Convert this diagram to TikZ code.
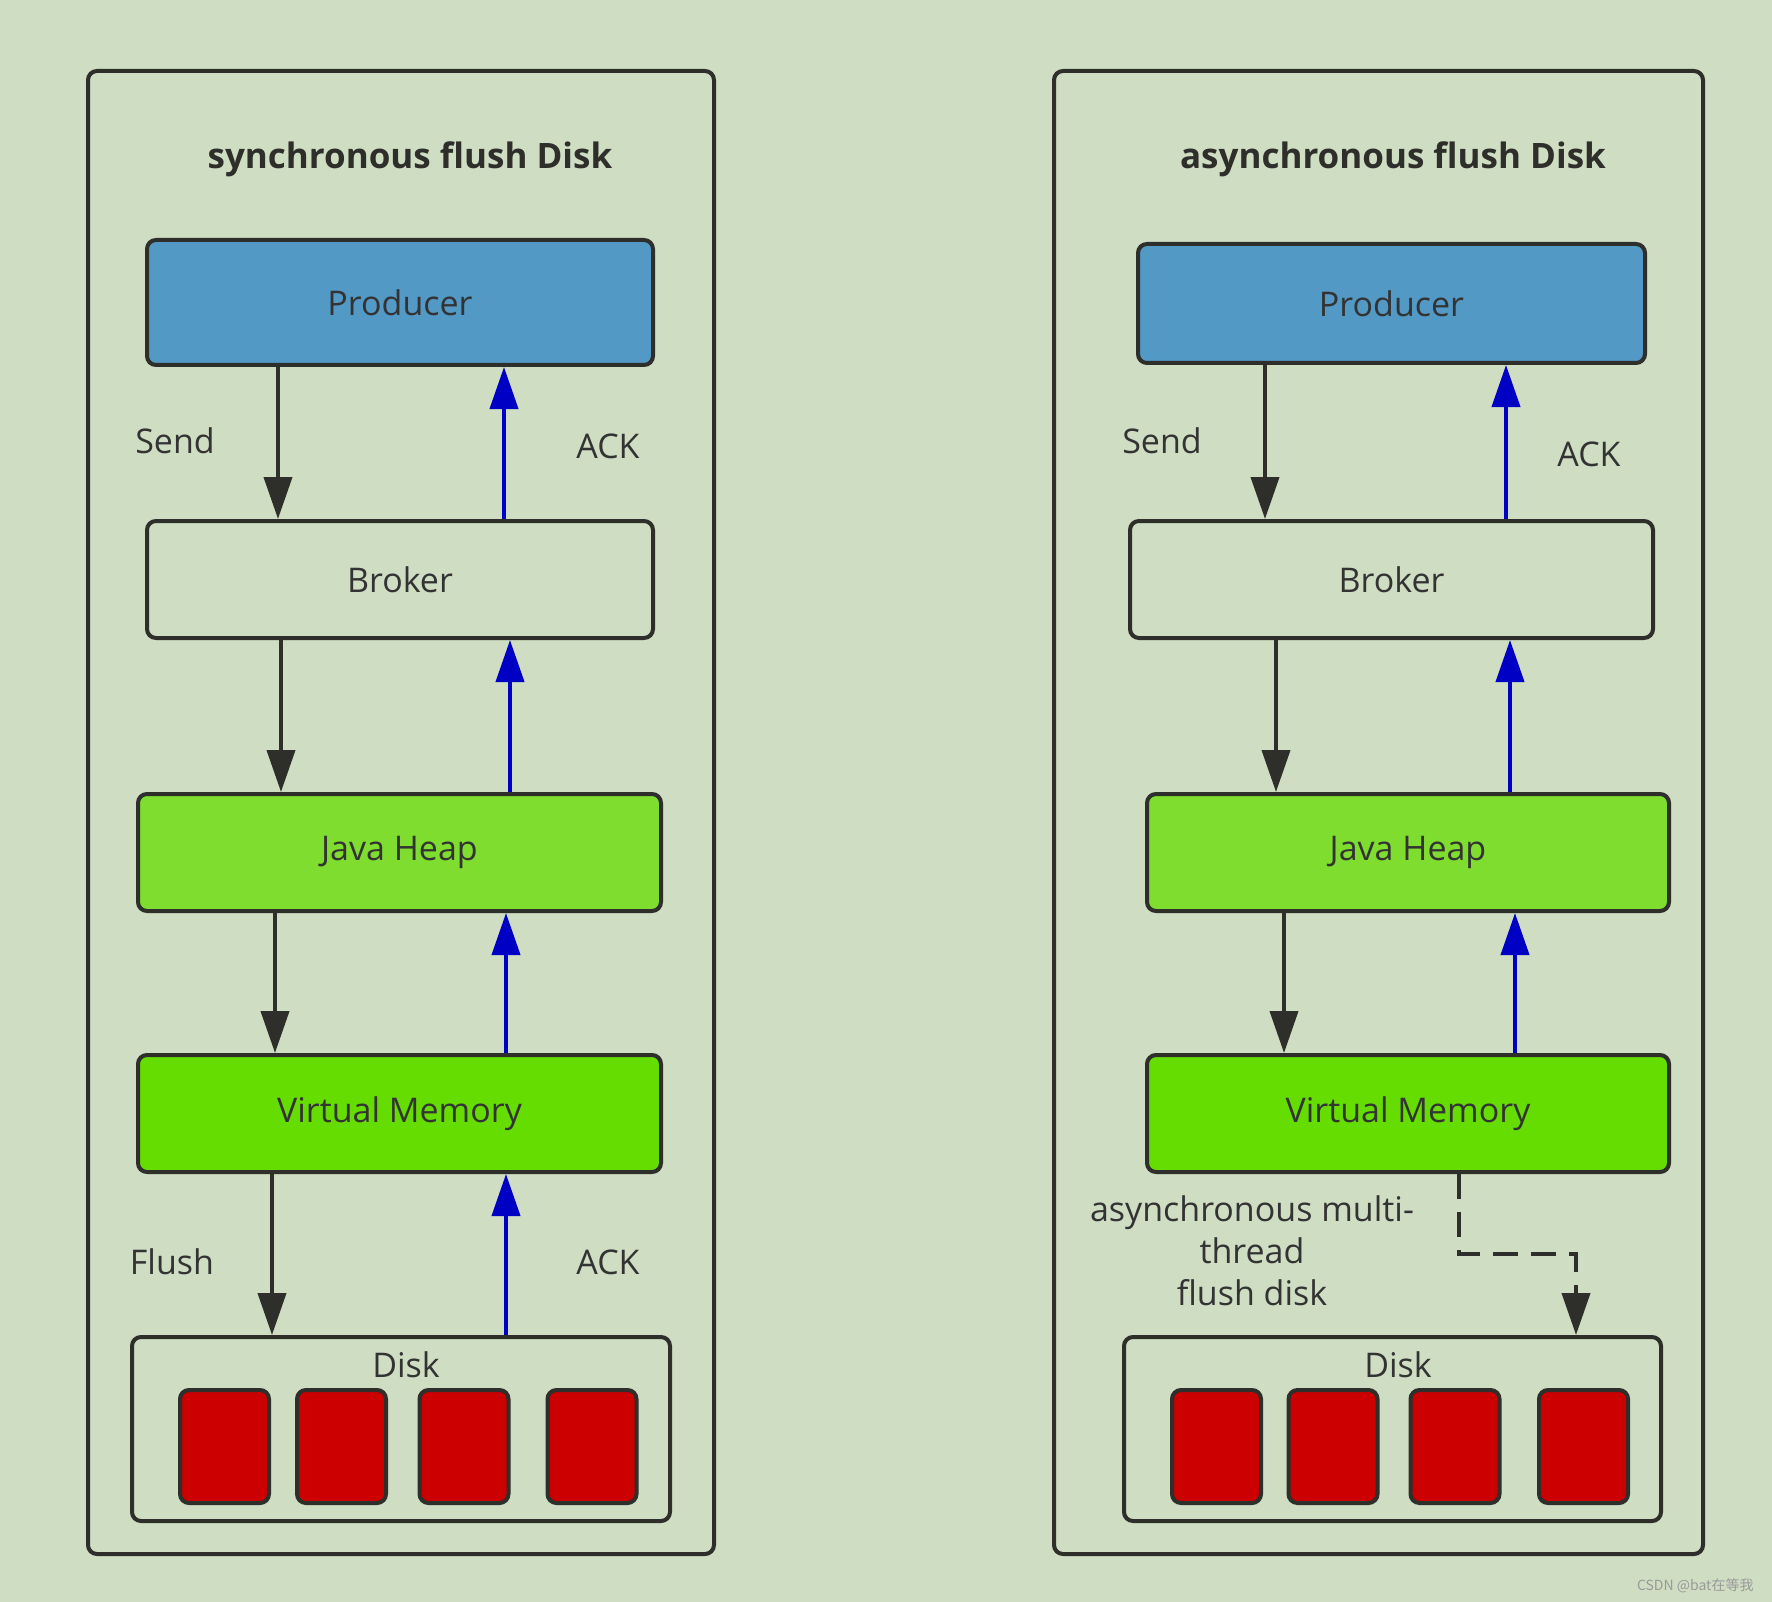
\documentclass[tikz,border=0pt]{standalone}
\usepackage{fontspec}
\setmainfont{Open Sans}
\newfontfamily\cjkfont{Noto Sans CJK SC}
\usetikzlibrary{arrows.meta}
\definecolor{bgcol}{HTML}{CFDEC3}
\definecolor{linecol}{HTML}{2E2E2A}
\definecolor{txtcol}{HTML}{333333}
\definecolor{prodcol}{HTML}{5399C6}
\definecolor{heapcol}{HTML}{7EDD2E}
\definecolor{vmcol}{HTML}{66DD00}
\definecolor{blockcol}{HTML}{CC0000}
\definecolor{ackcol}{HTML}{0000C4}
\begin{document}
\begin{tikzpicture}[x=1pt,y=-1pt,
  panel/.style={draw=linecol,line width=4pt,rounded corners=9pt,inner sep=0pt},
  box/.style={draw=linecol,line width=4pt,rounded corners=9pt,inner sep=0pt,
    minimum height=117pt,text=txtcol,font=\fontsize{34}{40}\selectfont},
  block/.style={draw=linecol,line width=4pt,rounded corners=9pt,fill=blockcol,
    minimum width=89pt,minimum height=113pt,inner sep=0pt},
  title/.style={text=linecol,font=\fontsize{35}{40}\selectfont\bfseries},
  lbl/.style={text=txtcol,font=\fontsize{34}{42}\selectfont},
  fwd/.style={draw=linecol,line width=4pt,-{Triangle[length=42pt,width=28pt]}},
  ack/.style={draw=ackcol,line width=4pt,-{Triangle[length=42pt,width=28pt]}},
  flush/.style={fwd,dash pattern=on 25pt off 13pt}]
\fill[bgcol] (0,0) rectangle (1772,1602);
% synchronous
\node[panel,minimum width=626pt,minimum height=1483pt] (lpanel) at (401,812.5) {};
\node[title] (ltitle) at (410,159) {synchronous flush Disk};
\node[box,fill=prodcol,minimum width=506pt,minimum height=125pt] (lprod) at (400,302.5) {Producer};
\node[box,minimum width=506pt] (lbroker) at (400,579.5) {Broker};
\node[box,fill=heapcol,minimum width=523pt] (lheap) at (399.5,852.5) {Java Heap};
\node[box,fill=vmcol,minimum width=523pt] (lvm) at (399.5,1113.5) {Virtual Memory};
\node[panel,minimum width=538pt,minimum height=184pt] (ldisk) at (401,1429) {};
\node[lbl] (ldisktext) at (406,1365) {Disk};
\foreach \x [count=\i] in {224.5,341.5,464,592}
  \node[block] (lblock\i) at (\x,1446.5) {};
\node[lbl] (lsend) at (175,441) {Send};
\node[lbl] (lack) at (608,446) {ACK};
\node[lbl] (lflush) at (172,1262) {Flush};
\node[lbl] (lack2) at (608,1262) {ACK};
\draw[fwd] ([xshift=-122pt]lprod.south) -- ([xshift=-122pt]lbroker.north);
\draw[ack] ([xshift=104pt]lbroker.north) -- ([xshift=104pt]lprod.south);
\draw[fwd] ([xshift=-119pt]lbroker.south) -- ([xshift=-118.5pt]lheap.north);
\draw[ack] ([xshift=110.5pt]lheap.north) -- ([xshift=110pt]lbroker.south);
\draw[fwd] ([xshift=-124.5pt]lheap.south) -- ([xshift=-124.5pt]lvm.north);
\draw[ack] ([xshift=106.5pt]lvm.north) -- ([xshift=106.5pt]lheap.south);
\draw[fwd] ([xshift=-127.5pt]lvm.south) -- ([xshift=-129pt]ldisk.north);
\draw[ack] ([xshift=105pt]ldisk.north) -- ([xshift=106.5pt]lvm.south);
% asynchronous
\node[panel,minimum width=649pt,minimum height=1483pt] (rpanel) at (1378.5,812.5) {};
\node[title] (rtitle) at (1393,159) {asynchronous flush Disk};
\node[box,fill=prodcol,minimum width=507pt,minimum height=119pt] (rprod) at (1391.5,303.5) {Producer};
\node[box,minimum width=523pt] (rbroker) at (1391.5,579.5) {Broker};
\node[box,fill=heapcol,minimum width=522pt] (rheap) at (1408,852.5) {Java Heap};
\node[box,fill=vmcol,minimum width=522pt] (rvm) at (1408,1113.5) {Virtual Memory};
\node[panel,minimum width=537pt,minimum height=184pt] (rdisk) at (1392.5,1429) {};
\node[lbl] (rdisktext) at (1398,1365) {Disk};
\foreach \x [count=\i] in {1216.5,1333,1455,1583.5}
  \node[block] (rblock\i) at (\x,1446.5) {};
\node[lbl] (rsend) at (1162,441) {Send};
\node[lbl] (rack) at (1589,454) {ACK};
\node[lbl,align=center] (rflush) at (1252,1251) {asynchronous multi-\\thread\\flush disk};
\draw[fwd] ([xshift=-126.5pt]rprod.south) -- ([xshift=-126.5pt]rbroker.north);
\draw[ack] ([xshift=114.5pt]rbroker.north) -- ([xshift=114.5pt]rprod.south);
\draw[fwd] ([xshift=-115.5pt]rbroker.south) -- ([xshift=-132pt]rheap.north);
\draw[ack] ([xshift=102pt]rheap.north) -- ([xshift=118.5pt]rbroker.south);
\draw[fwd] ([xshift=-124pt]rheap.south) -- ([xshift=-124pt]rvm.north);
\draw[ack] ([xshift=107pt]rvm.north) -- ([xshift=107pt]rheap.south);
\draw[flush] ([xshift=51pt]rvm.south) -- ++(0,80) -| ([xshift=183.5pt]rdisk.north);
\node[anchor=base east,text=black!40,font=\cjkfont\fontsize{14}{16}\selectfont] (mark) at (1757,1590) {CSDN @bat在等我};
\end{tikzpicture}
\end{document}
